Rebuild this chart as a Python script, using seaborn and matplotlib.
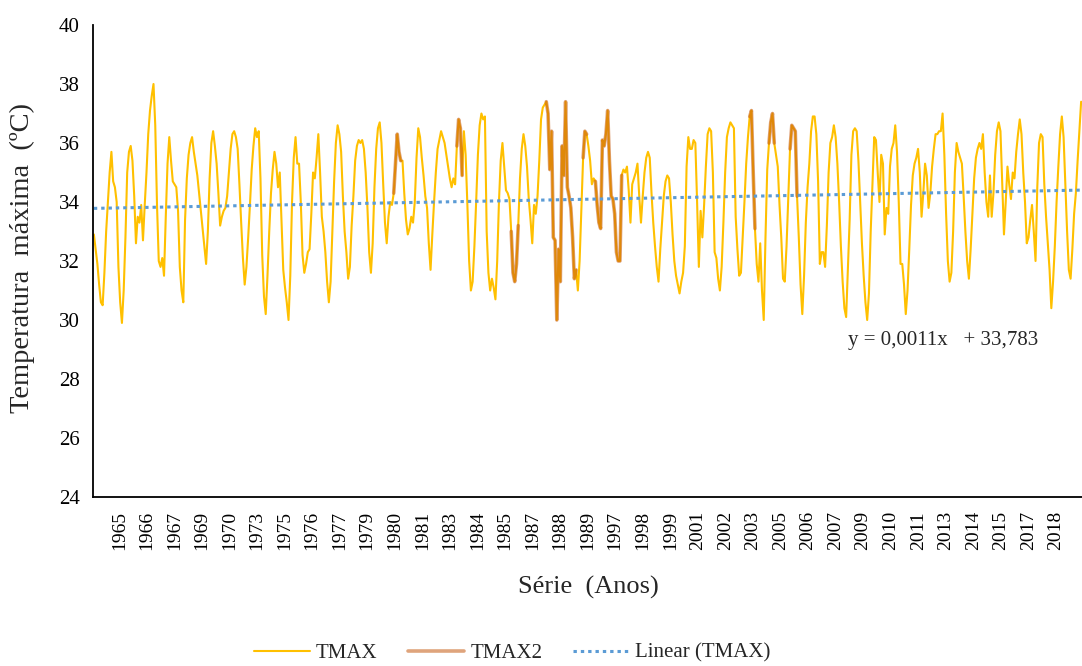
import numpy as np
import pandas as pd
import matplotlib
matplotlib.use("Agg")
import matplotlib.pyplot as plt
from matplotlib.lines import Line2D
import seaborn as sns

# Monthly maximum temperature (°C), chronological order, split in blocks
tmax_a = [
    32.9, 32.4, 31.9, 31.2, 30.6, 30.5, 31.6, 33.0, 34.0, 35.0, 35.7, 34.7,
    34.5, 34.0, 31.8, 30.6, 29.9, 31.0, 32.8, 35.0, 35.7, 35.9, 35.4, 34.2,
    32.6, 33.5, 33.3, 33.9, 32.7, 33.9, 35.0, 36.3, 37.1, 37.6, 38.0, 36.6,
    33.9, 32.0, 31.8, 32.1, 31.5, 33.5, 35.3, 36.2, 35.4, 34.7, 34.6, 34.5,
    33.7, 31.8, 31.0, 30.6, 33.4, 34.8, 35.6, 36.0, 36.2, 35.7, 35.3, 34.9,
    34.3, 33.7, 33.1, 32.5, 31.9, 33.0, 34.8, 36.0, 36.4, 35.9, 35.3, 34.3,
    33.2, 33.5, 33.7, 33.8, 34.2, 35.0, 35.8, 36.3, 36.4, 36.2, 35.8, 34.6,
    33.3, 32.1, 31.2, 31.8, 32.8, 33.9, 35.1, 35.9, 36.5, 36.2, 36.4, 34.8,
    32.2, 30.8, 30.2, 31.5, 33.0, 34.3, 35.1, 35.7, 35.3, 34.5, 35.0, 33.4,
    31.7, 31.1, 30.6, 30.0, 31.5, 34.0, 35.5, 36.2, 35.3, 35.3, 34.0, 32.2,
]
tmax_b = [
    31.6, 31.9, 32.3, 32.4, 33.6, 35.0, 34.8, 35.5, 36.3, 35.0, 33.5, 33.0,
    32.3, 31.3, 30.6, 31.3, 33.0, 34.7, 36.0, 36.6, 36.3, 35.7, 34.2, 33.0,
    32.3, 31.4, 31.8, 33.2, 34.2, 35.4, 35.9, 36.1, 36.0, 36.1, 35.8, 35.0,
    33.8, 32.3, 31.6, 32.6, 34.5, 35.8, 36.5, 36.7, 36.0, 34.6, 33.3, 32.6,
    33.5, 34.0, 33.9, 34.3, 35.3, 36.3, 35.7, 35.4, 35.4, 34.3, 33.4, 32.9,
    33.1, 33.5, 33.3, 34.0, 35.5, 36.5, 36.2, 35.5, 34.9, 34.2, 33.8, 32.6,
    31.7, 32.9, 34.0, 35.0, 35.8, 36.1, 36.4, 36.2, 36.0, 35.6, 35.2, 34.8,
    34.5, 34.8, 34.6, 35.9, 36.8, 36.5, 34.9, 36.4, 35.6, 33.9, 32.0, 31.0,
    31.3, 32.5, 34.0, 35.6, 36.6, 37.0, 36.8, 36.9, 33.0, 31.6, 31.0, 31.4,
    31.1, 30.7, 32.0, 34.0, 35.4, 36.0, 35.2, 34.4, 34.3, 34.1, 33.0, 31.6,
]
tmax_c = [
    31.3, 31.9, 33.2, 34.8, 35.8, 36.3, 35.9, 35.2, 34.1, 33.4, 32.6, 33.9,
    33.6, 34.2, 35.4, 36.8, 37.2, 37.3, 37.4, 37.0, 35.1, 36.4, 32.8, 32.7,
    30.0, 32.4, 31.3, 35.9, 34.9, 37.4, 34.5, 34.2, 33.8, 32.8, 31.4, 31.7,
    31.0, 32.0, 33.8, 35.5, 36.4, 36.3, 35.9, 35.4, 34.6, 34.8, 34.7, 33.9,
    33.3, 33.1, 36.1, 35.9, 36.3, 37.1, 35.4, 34.2, 34.1, 33.6, 32.3, 32.0,
    32.0, 34.9, 35.1, 35.0, 35.2, 34.4, 33.3, 34.6, 34.8, 35.0, 35.3, 34.2,
    33.3, 34.2, 35.0, 35.5, 35.7, 35.5, 34.3, 33.3, 32.5, 31.8, 31.3, 32.4,
    33.3, 34.2, 34.7, 34.9, 34.8, 34.0, 32.9, 32.0, 31.5, 31.2, 30.9, 31.3,
    31.6, 32.5, 35.2, 36.2, 35.8, 35.8, 36.1, 36.0, 34.0, 31.8, 33.7, 32.8,
    33.9, 35.2, 36.3, 36.5, 36.4, 35.0, 32.3, 32.1, 31.4, 31.0, 31.8, 33.3,
]
tmax_d = [
    35.0, 36.2, 36.5, 36.7, 36.6, 36.5, 33.5, 32.4, 31.5, 31.6, 32.8, 34.0,
    35.3, 36.2, 36.9, 37.1, 35.0, 33.1, 31.9, 31.3, 32.6, 31.0, 30.0, 32.8,
    35.1, 36.0, 36.7, 37.0, 36.0, 35.6, 35.2, 33.9, 32.8, 31.4, 31.3, 32.5,
    34.2, 35.8, 36.6, 36.5, 36.4, 34.2, 32.8, 31.2, 30.2, 31.5, 33.3, 34.5,
    35.3, 36.4, 36.9, 36.9, 36.3, 34.7, 31.9, 32.3, 32.3, 31.8, 33.2, 35.0,
    36.0, 36.2, 36.6, 36.2, 35.3, 34.0, 32.5, 31.3, 30.4, 30.1, 31.8, 33.4,
    35.6, 36.4, 36.5, 36.4, 35.4, 34.0, 32.6, 31.5, 30.6, 30.0, 30.9, 33.0,
    34.6, 36.2, 36.1, 35.0, 34.0, 35.6, 35.3, 32.9, 33.8, 33.6, 35.2, 35.8,
    36.0, 36.6, 35.7, 34.0, 31.9, 31.9, 31.2, 30.2, 31.0, 32.4, 33.9, 34.9,
    35.3, 35.5, 35.8, 35.0, 33.5, 34.3, 35.3, 34.9, 33.8, 34.3, 35.2, 35.8,
]
tmax_e = [
    36.3, 36.3, 36.4, 36.4, 37.0, 35.6, 33.6, 32.0, 31.3, 31.6, 33.0, 35.0,
    36.0, 35.7, 35.5, 35.3, 34.2, 33.0, 32.0, 31.4, 32.4, 33.6, 34.8, 35.5,
    35.8, 36.0, 35.8, 36.3, 35.0, 34.0, 33.5, 34.9, 33.5, 34.3, 35.6, 36.4,
    36.7, 36.4, 34.6, 32.9, 34.0, 35.2, 34.6, 34.1, 35.0, 34.8, 35.7, 36.3,
    36.8, 36.3, 35.0, 34.0, 32.6, 32.8, 33.4, 33.9, 33.0, 32.0, 34.5, 36.0,
    36.3, 36.2, 34.6, 33.5, 32.6, 31.7, 30.4, 31.3, 32.5, 34.0, 35.2, 36.3,
    36.9, 36.2, 34.6, 33.0, 31.7, 31.4, 32.4, 33.6, 34.3, 35.4, 36.4, 37.4,
]

# Months (1-based, inclusive) covered by the TMAX2 series
tmax2_trechos = [(172, 176), (208, 211), (239, 243), (259, 276), (280, 282),
                 (287, 302), (375, 378), (386, 389), (398, 402)]

# Year labels shown along the category axis
anos_eixo = ["1965", "1966", "1967", "1969", "1970", "1973", "1975", "1976",
             "1977", "1979", "1980", "1981", "1983", "1984", "1985", "1987",
             "1988", "1989", "1997", "1998", "1999", "2001", "2002", "2003",
             "2005", "2006", "2007", "2009", "2010", "2011", "2013", "2014",
             "2015", "2017", "2018"]

# Linear trend of TMAX
incl = 0.0011
intercepto = 33.783

tmax = np.array(tmax_a + tmax_b + tmax_c + tmax_d + tmax_e)
n = len(tmax)
mes = np.arange(1, n + 1)
df = pd.DataFrame({"mes": mes, "TMAX": tmax})
df["tend"] = incl * df["mes"] + intercepto

linhas = []
for k, (ini, fim) in enumerate(tmax2_trechos):
    for m in range(ini, fim + 1):
        linhas.append((m, tmax[m - 1], k))
df2 = pd.DataFrame(linhas, columns=["mes", "TMAX2", "trecho"])

sns.set_style("white")
plt.rcParams["font.family"] = ["Liberation Serif", "DejaVu Serif"]

cor_tmax = "#FFC000"
cor_tmax2 = "#C55A11"
cor_tend = "#5B9BD5"

fig = plt.figure(figsize=(10.82, 6.66), dpi=100)
ax = fig.add_axes([93 / 1082, 1 - 497 / 666, 989 / 1082, 472 / 666])

sns.lineplot(data=df, x="mes", y="TMAX", color=cor_tmax, linewidth=1.5, ax=ax)
sns.lineplot(data=df2, x="mes", y="TMAX2", units="trecho", estimator=None,
             color=cor_tmax2, alpha=0.55, linewidth=2.6, ax=ax)
sns.lineplot(data=df, x="mes", y="tend", color=cor_tend, linewidth=2.2,
             linestyle=(0, (1.1, 1.3)), ax=ax)

ax.set_xlim(0.5, n + 0.5)
ax.set_ylim(24, 40)
ax.set_yticks(np.arange(24, 41, 2))
ax.set_yticklabels([str(v) for v in range(24, 41, 2)], fontsize=15)
pos_anos = np.linspace(15.5, 549.6, len(anos_eixo))
ax.set_xticks(pos_anos)
ax.set_xticklabels(anos_eixo, rotation=90, fontsize=14)
ax.tick_params(axis="both", direction="out", length=6, width=1.2,
               color="black", labelcolor="black")
ax.tick_params(axis="x", pad=4)
ax.set_xlabel("")
ax.set_ylabel("")
sns.despine(ax=ax)
for lado in ("left", "bottom"):
    ax.spines[lado].set_color("black")
    ax.spines[lado].set_linewidth(1.3)

fig.text(22 / 1082, 1 - 258 / 666, "Temperatura  máxima  (ºC)", rotation=90,
         ha="center", va="center", fontsize=20.5)
fig.text(588 / 1082, 1 - 587 / 666, "Série  (Anos)", ha="center",
         va="center", fontsize=19)

eq = f"y = {incl:.4f}x   + {intercepto:.3f}".replace(".", ",")
fig.text(848 / 1082, 1 - 341 / 666, eq, ha="left", va="center", fontsize=15)

alcas = [
    Line2D([], [], color=cor_tmax, linewidth=1.5),
    Line2D([], [], color=cor_tmax2, alpha=0.55, linewidth=2.6),
    Line2D([], [], color=cor_tend, linewidth=2.2, linestyle=(0, (1.1, 1.3))),
]
fig.legend(alcas, ["TMAX", "TMAX2", "Linear (TMAX)"], loc="center",
           bbox_to_anchor=(512 / 1082, 1 - 653 / 666), ncol=3, frameon=False,
           fontsize=15, handlelength=2.7, handletextpad=0.3, columnspacing=1.45)

fig.savefig("out.png", dpi=100, facecolor="white")
